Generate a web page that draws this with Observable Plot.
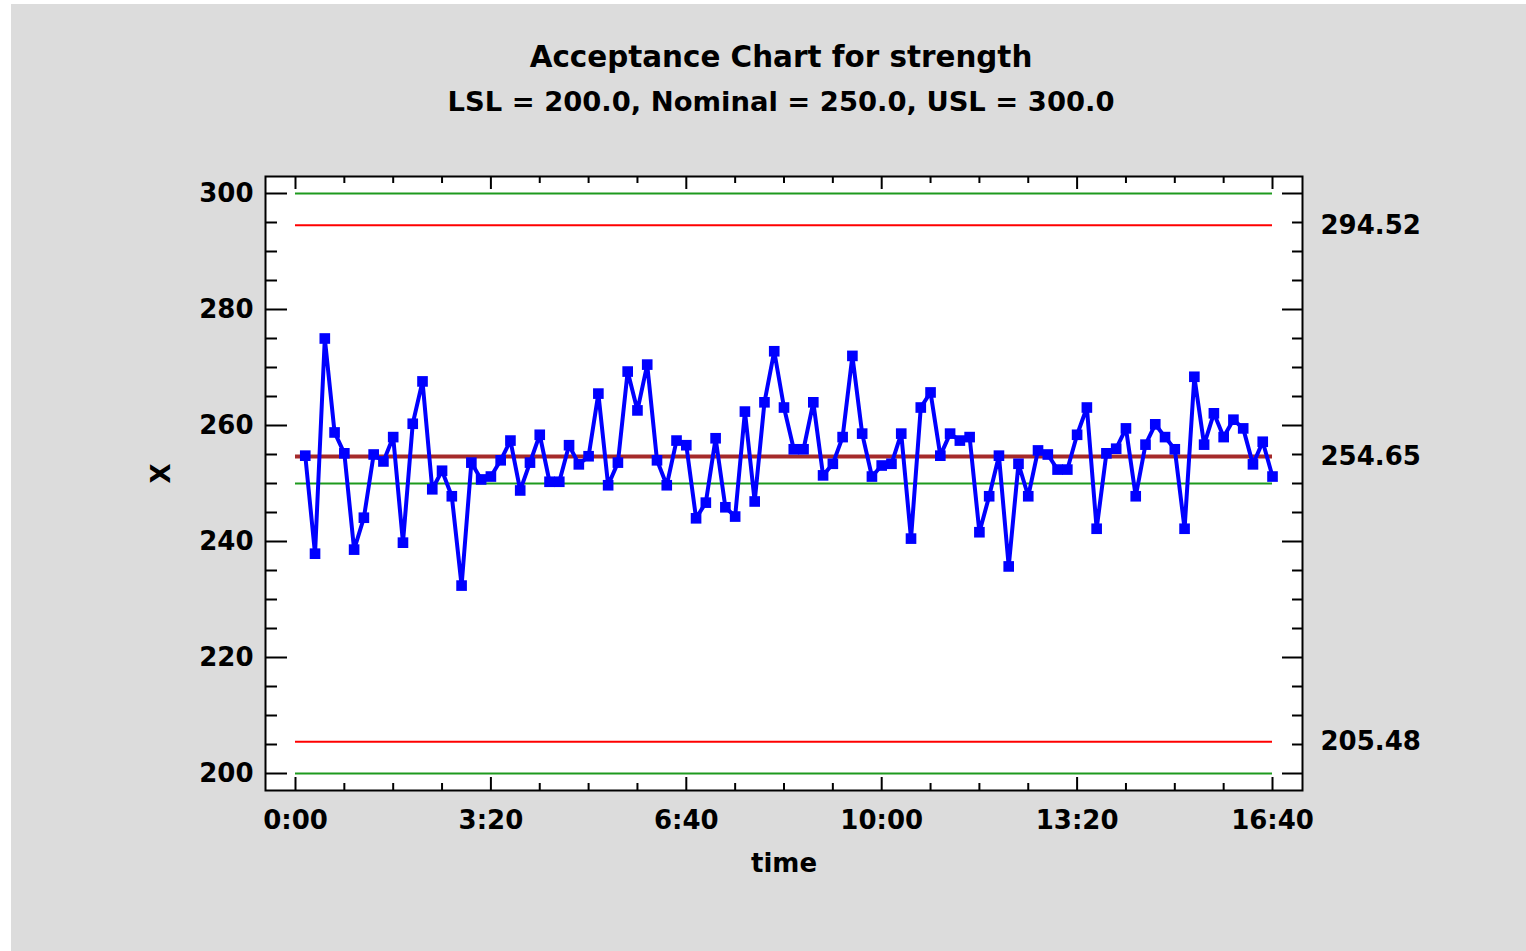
<!DOCTYPE html>
<html>
<head>
<meta charset="utf-8">
<script src="https://cdn.jsdelivr.net/npm/d3@7"></script>
<script src="https://cdn.jsdelivr.net/npm/@observablehq/plot@0.6"></script>
<style>
  html, body { margin: 0; padding: 0; background: #ffffff; }
  #panel { position: absolute; left: 11px; top: 4px; width: 1515px; height: 947px; background: #dcdcdc; overflow: hidden; }
  .ttl { position: absolute; left: 0; width: 1540px; text-align: center; font-family: "DejaVu Sans", Verdana, sans-serif; font-weight: bold; color: #000; white-space: nowrap; }
  #t1 { top: 36px; font-size: 29.4px; }
  #t2 { top: 82px; font-size: 27.4px; }
  #chart { position: absolute; left: 0; top: 126px; }
</style>
</head>
<body>
<div id="panel">
  <div class="ttl" id="t1">Acceptance Chart for strength</div>
  <div class="ttl" id="t2">LSL = 200.0, Nominal = 250.0, USL = 300.0</div>
  <div id="chart"></div>
</div>
<script>
// ---- data ----
const sampleMinutes = 10; // sampling interval, minutes
const strength = [
  254.8, 237.9, 275.0, 258.8, 255.2, 238.6, 244.1, 255.0, 253.8, 258.0,
  239.8, 260.3, 267.6, 249.0, 252.2, 247.8, 232.4, 253.6, 250.7, 251.2,
  254.0, 257.4, 248.8, 253.6, 258.4, 250.3, 250.3, 256.6, 253.3, 254.7,
  265.5, 249.7, 253.6, 269.3, 262.6, 270.5, 254.0, 249.7, 257.4, 256.6,
  244.0, 246.7, 257.8, 245.9, 244.3, 262.4, 246.9, 264.0, 272.8, 263.1,
  255.9, 255.9, 264.0, 251.4, 253.4, 258.0, 272.0, 258.6, 251.2, 253.1,
  253.4, 258.6, 240.5, 263.1, 265.7, 254.8, 258.6, 257.4, 258.0, 241.6,
  247.8, 254.8, 235.7, 253.4, 247.8, 255.7, 255.0, 252.4, 252.4, 258.4,
  263.1, 242.2, 255.2, 256.0, 259.5, 247.8, 256.7, 260.2, 258.0, 255.9,
  242.2, 268.4, 256.7, 262.1, 258.0, 261.0, 259.5, 253.3, 257.2, 251.2
];
const specLimits = [200.0, 250.0, 300.0];      // LSL, Nominal, USL (green)
const acceptLimits = [205.48, 294.52];          // acceptance limits (red)
const centerLine = [254.65];                    // centre line (brown)
const rightLabels = [294.52, 254.65, 205.48];
const timeSpan = [0, 1000];                     // 0:00 .. 16:40 in minutes
const xTickValues = [0, 200, 400, 600, 800, 1000];
const yTickValues = [200, 220, 240, 260, 280, 300];

const data = strength.map((v, i) => ({t: (i + 1) * sampleMinutes, v}));

const fmtTime = d => `${Math.floor(d / 60)}:${String(d % 60).padStart(2, "0")}`;

// layout
const W = 1515, H = 825;
const mL = 254, mR = 224, mT = 46, mB = H - (790 - 126 - 4);
const frameW = W - mL - mR;
const frameH = H - mT - mB;

const xMinor = d3.range(0, 1001, 50).filter(d => d % 200 !== 0);
const yMinor = d3.range(200, 301, 5).filter(d => d % 20 !== 0);

const tickStyle = {stroke: "black", strokeWidth: 2};

const plot = Plot.plot({
  width: W,
  height: H,
  marginLeft: mL,
  marginRight: mR,
  marginTop: mT,
  marginBottom: mB,
  style: {fontFamily: "'DejaVu Sans', Verdana, sans-serif", fontSize: "26px", fontWeight: "bold", background: "transparent", color: "black", overflow: "visible"},
  x: {domain: [-30.7, 1030.7]},
  y: {domain: [197.07, 302.93]},
  marks: [
    Plot.frame({fill: "white"}),
    // spec limits
    Plot.ruleY(specLimits, {x1: timeSpan[0], x2: timeSpan[1], stroke: "#1e9a1e", strokeWidth: 2}),
    Plot.ruleY(acceptLimits, {x1: timeSpan[0], x2: timeSpan[1], stroke: "#ff0000", strokeWidth: 2}),
    Plot.ruleY(centerLine, {x1: timeSpan[0], x2: timeSpan[1], stroke: "#a52a2a", strokeWidth: 4}),
    // data
    Plot.line(data, {x: "t", y: "v", stroke: "#0000ff", strokeWidth: 4}),
    Plot.dot(data, {x: "t", y: "v", symbol: "square", r: 6, fill: "#0000ff", stroke: "none"}),
    // inward ticks
    Plot.tickY(yTickValues, {y: d => d, insetRight: frameW - 22, ...tickStyle}),
    Plot.tickY(yMinor, {y: d => d, insetRight: frameW - 12, ...tickStyle}),
    Plot.tickY(yTickValues, {y: d => d, insetLeft: frameW - 20, ...tickStyle}),
    Plot.tickY(yMinor, {y: d => d, insetLeft: frameW - 10, ...tickStyle}),
    Plot.tickX(xTickValues, {x: d => d, insetTop: frameH - 13, ...tickStyle}),
    Plot.tickX(xMinor, {x: d => d, insetTop: frameH - 7, ...tickStyle}),
    Plot.tickX(xTickValues, {x: d => d, insetBottom: frameH - 13, ...tickStyle}),
    Plot.tickX(xMinor, {x: d => d, insetBottom: frameH - 7, ...tickStyle}),
    Plot.frame({stroke: "black", strokeWidth: 2}),
    // axes labels
    Plot.axisY({ticks: yTickValues, tickSize: 0, tickPadding: 12, label: null, anchor: "left"}),
    Plot.axisX({ticks: xTickValues, tickSize: 0, tickPadding: 20, tickFormat: fmtTime, label: null, anchor: "bottom"}),
    Plot.text(rightLabels, {y: d => d, frameAnchor: "right", dx: 18, textAnchor: "start", text: d => d.toFixed(2), fill: "black"}),
    Plot.text(["X"], {frameAnchor: "left", dx: -104, rotate: -90, text: d => d, fill: "black"}),
    Plot.text(["time"], {frameAnchor: "bottom", dy: 81, text: d => d, fill: "black"})
  ]
});
document.getElementById("chart").appendChild(plot);
</script>
</body>
</html>
